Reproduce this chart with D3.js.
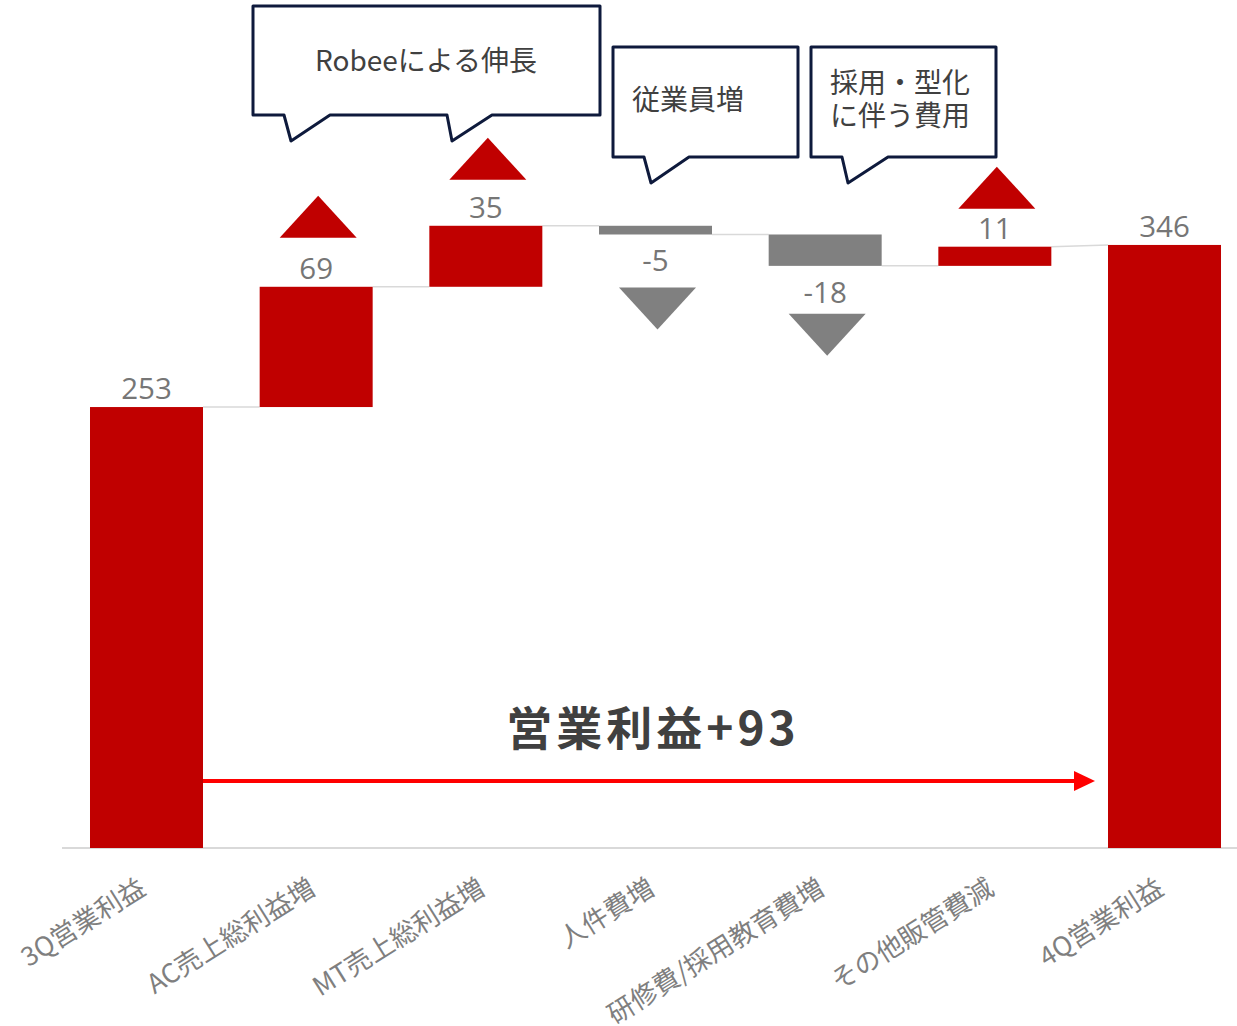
<!DOCTYPE html>
<html>
<head>
<meta charset="utf-8">
<script src="https://cdn.jsdelivr.net/npm/d3@7"></script>
<style>
  body { margin: 0; background: #fff; }
  svg { display: block; }
</style>
</head>
<body>
<svg></svg>
<script>
var categories = ['3Q営業利益', 'AC売上総利益増', 'MT売上総利益増', '人件費増', '研修費/採用教育費増', 'その他販管費減', '4Q営業利益'];
var values = [253, 69, 35, -5, -18, 11, 346];
var isTotal = [true, false, false, false, false, false, true];
var diffLabel = '営業利益+93';

var W = 1237, H = 1026;
var svg = d3.select('svg')
   .attr('width', W)
   .attr('height', H);

var x = d3.scaleBand()
   .domain(categories)
   .range([62, 1249])
   .paddingInner(0.334)
   .paddingOuter(0.165);

var y = d3.scaleLinear()
   .domain([0, 480])
   .range([848, 11.4]);

// running totals for the waterfall
var cum = 0;
var steps = categories.map(function (c, i) {
   var s, e;
   if (isTotal[i]) { s = 0; e = values[i]; cum = values[i]; }
   else { s = cum; e = cum + values[i]; cum = e; }
   return { cat: c, v: values[i], start: s, end: e, total: isTotal[i] };
});

// connectors
for (var i = 0; i < steps.length - 1; i++) {
   var a = steps[i], b = steps[i + 1];
   var to = b.total ? b.end : b.start;
   svg.append('line')
      .attr('x1', x(a.cat) + x.bandwidth())
      .attr('x2', x(b.cat))
      .attr('y1', y(a.end))
      .attr('y2', y(to))
      .attr('stroke', '#d9d9d9')
      .attr('stroke-width', 1.5);
}

// axis line
svg.append('line')
   .attr('x1', 62).attr('x2', W)
   .attr('y1', y(0)).attr('y2', y(0))
   .attr('stroke', '#d9d9d9')
   .attr('stroke-width', 2);

svg.append('g')
   .selectAll('rect')
   .data(steps)
   .enter()
   .append('rect')
   .attr('x', function (d) { return x(d.cat); })
   .attr('width', x.bandwidth())
   .attr('y', function (d) { return y(Math.max(d.start, d.end)); })
   .attr('height', function (d) { return Math.abs(y(d.start) - y(d.end)); })
   .attr('fill', function (d) { return d.v < 0 ? '#808080' : '#c00000'; });

// value labels
svg.append('g')
   .selectAll('text')
   .data(steps)
   .enter()
   .append('text')
   .attr('x', function (d) { return x(d.cat) + x.bandwidth() / 2; })
   .attr('y', function (d) {
      return d.v < 0 ? y(Math.min(d.start, d.end)) + 37 : y(Math.max(d.start, d.end)) - 8;
   })
   .attr('text-anchor', 'middle')
   .attr('font-family', '"Open Sans", "Noto Sans CJK JP", sans-serif')
   .attr('font-size', 29.5)
   .attr('fill', '#767676')
   .text(function (d) { return d.v; });

// up / down markers
var markerGap = [null, 49, 46, 53, 48, 38, null];
var tw = 77, th = 42;
steps.forEach(function (d, i) {
   if (markerGap[i] == null) return;
   var cx = x(d.cat) + x.bandwidth() / 2 + 2;
   var p;
   if (d.v > 0) {
      var b = y(d.end) - markerGap[i];
      p = [[cx - tw / 2, b], [cx + tw / 2, b], [cx, b - th]];
   } else {
      var t = y(d.end) + markerGap[i];
      p = [[cx - tw / 2, t], [cx + tw / 2, t], [cx, t + th]];
   }
   svg.append('path')
      .attr('d', 'M' + p.join('L') + 'Z')
      .attr('fill', d.v > 0 ? '#c00000' : '#808080');
});

// category labels
svg.append('g')
   .selectAll('text')
   .data(categories)
   .enter()
   .append('text')
   .attr('transform', function (d) {
      return 'translate(' + (x(d) + x.bandwidth() / 2 + 1) + ',893) rotate(-32)';
   })
   .attr('text-anchor', 'end')
   .attr('font-family', '"Noto Sans CJK JP", sans-serif')
   .attr('font-size', 26.5)
   .attr('fill', '#7f7f7f')
   .text(function (d) { return d; });

// callouts
function callout(x0, y0, x1, y1, tails) {
   var d = 'M' + x0 + ',' + y0 + 'H' + x1 + 'V' + y1;
   tails.slice().sort(function (a, b) { return b[0] - a[0]; }).forEach(function (t) {
      d += 'H' + t[2] + 'L' + t[1] + ',' + (y1 + 26) + 'L' + t[0] + ',' + y1;
   });
   d += 'H' + x0 + 'Z';
   svg.append('path')
      .attr('d', d)
      .attr('fill', '#fff')
      .attr('stroke', '#0e1a3c')
      .attr('stroke-width', 3)
      .attr('stroke-linejoin', 'round');
}
callout(253, 6, 600, 115, [[284, 291, 330], [447, 452, 492]]);
callout(613, 47, 798, 157, [[644, 651, 689]]);
callout(811, 47, 996, 157, [[842, 848, 888]]);

var ctext = svg.append('g')
   .attr('font-family', '"Noto Sans CJK JP", sans-serif')
   .attr('font-size', 28)
   .attr('fill', '#404040');
ctext.append('text').attr('x', 426).attr('y', 71).attr('text-anchor', 'middle').text('Robeeによる伸長');
ctext.append('text').attr('x', 632).attr('y', 110).text('従業員増');
ctext.append('text').attr('x', 830).attr('y', 93).text('採用・型化');
ctext.append('text').attr('x', 830).attr('y', 126).text('に伴う費用');

// total change arrow
var ay = 781;
var ax0 = x(categories[0]) + x.bandwidth();
var ax1 = x(categories[6]) - 13;
svg.append('line')
   .attr('x1', ax0).attr('x2', ax1 - 18)
   .attr('y1', ay).attr('y2', ay)
   .attr('stroke', '#ff0000')
   .attr('stroke-width', 4);
svg.append('path')
   .attr('d', 'M' + (ax1 - 21) + ',' + (ay - 10) + 'L' + ax1 + ',' + ay + 'L' + (ax1 - 21) + ',' + (ay + 10) + 'Z')
   .attr('fill', '#ff0000');

svg.append('text')
   .attr('x', 653)
   .attr('y', 745)
   .attr('text-anchor', 'middle')
   .attr('font-family', '"Noto Sans CJK JP", sans-serif')
   .attr('font-weight', 'bold')
   .attr('font-size', 46)
   .attr('letter-spacing', 4)
   .attr('fill', '#404040')
   .text(diffLabel);
</script>
</body>
</html>
